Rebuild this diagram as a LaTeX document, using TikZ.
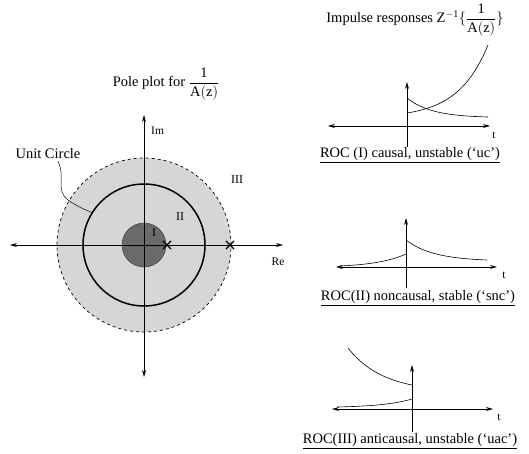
\documentclass[tikz,border=0pt]{standalone}
\usepackage{fontspec}
\setmainfont{Liberation Serif}
\usetikzlibrary{positioning,calc,arrows.meta,shapes.misc}
\definecolor{rocLight}{HTML}{D6D6D6}
\definecolor{rocDark}{HTML}{6A6A6A}
\tikzset{
  axisline/.style={line width=0.8pt, {Stealth[length=7pt,width=4pt]}-{Stealth[length=7pt,width=4pt]}},
  upaxis/.style={line width=0.8pt, -{Stealth[length=7pt,width=4pt]}},
  resp/.style={line width=0.6pt},
  lbl/.style={font=\fontsize{14.5}{16}\selectfont, inner sep=1pt},
  small lbl/.style={font=\fontsize{11.5}{13}\selectfont, inner sep=1pt},
  roman lbl/.style={font=\fontsize{12}{13}\selectfont, inner sep=1pt},
  pole/.style={cross out, draw, minimum size=7pt, inner sep=0pt, line width=1.1pt}
}
\newcommand{\onefrac}{{\displaystyle\frac{\mathrm{1}}{\mathrm{A(z)}}}}
\begin{document}
\begin{tikzpicture}[x=1pt, y=-1pt]
\useasboundingbox (0,0) rectangle (529,454);

% --- POLE PLOT ---
\def\cx{144}
\def\cy{245}
\coordinate (orig) at (\cx,\cy);
\fill[rocLight] (orig) circle[radius=87pt];
\draw[dashed, line width=0.7pt] (orig) circle[radius=87pt];
\filldraw[fill=rocDark, draw=black!75, line width=0.5pt] (orig) circle[radius=22pt];
\draw[line width=1.5pt] (orig) circle[radius=61pt];

% axes
\coordinate (reW) at (10,\cy);
\coordinate (reE) at (283,\cy);
\coordinate (imN) at (\cx,115);
\coordinate (imS) at (\cx,377);
\draw[axisline] (reW) -- (reE);
\draw[axisline] (imS) -- (imN);
\node[small lbl, anchor=west] (im) at (150,131) {Im};
\node[small lbl] (re) at (278,262) {Re};

% poles
\node[pole] (poleI) at (167,\cy) {};
\node[pole] (poleIII) at (230,\cy) {};

% regions
\node[roman lbl] (rI) at (154,233) {I};
\node[roman lbl] (rII) at (180,217) {II};
\node[roman lbl] (rIII) at (237,180) {III};

% unit circle leader
\node[lbl] (ucirc) at (48,154) {Unit Circle};
\coordinate (ucpt) at ($(orig)+(148:61pt)$);
\draw[line width=0.5pt] ($(ucirc.south)+(10,1)$)
  .. controls (66,178) and (55,190) .. (68,200)
  .. controls (78,207) and (86,210) .. (ucpt);

% title
\node[lbl] (poletitle) at (166,84) {Pole plot for $\onefrac$};

% --- IMPULSE RESPONSES ---
\node[lbl] (imptitle) at (415,20) {Impulse responses Z$^{\mathrm{-1}}\{\onefrac\}$};

% ROC I: causal, unstable
\coordinate (aW) at (328,126);
\coordinate (aE) at (490,126);
\coordinate (aN) at (407,82);
\coordinate (aS) at (407,147);
\draw[axisline] (aW) -- (aE);
\draw[upaxis] (aS) -- (aN);
\node[small lbl] (ta) at (494,135) {t};
\draw[resp] plot[domain=0:81, samples=40] ({407+\x},{113-68*(exp(\x/30)-1)/(exp(81/30)-1)});
\draw[resp] plot[domain=0:81, samples=40] ({407+\x},{98+19.8*(1-exp(-\x/25))});
\node[lbl] (roca) at (410,155) {\underline{ROC (I) causal, unstable (`uc')}};

% ROC II: noncausal, stable
\coordinate (bW) at (336,267);
\coordinate (bE) at (497,267);
\coordinate (bN) at (406,218);
\coordinate (bS) at (406,288);
\draw[axisline] (bW) -- (bE);
\draw[upaxis] (bS) -- (bN);
\node[small lbl] (tb) at (504,275) {t};
\draw[resp] plot[domain=0:81, samples=40] ({406+\x},{240+20*(1-exp(-\x/28))/(1-exp(-81/28))});
\draw[resp] plot[domain=0:66, samples=40] ({406-\x},{254+12*(1-exp(-\x/30))/(1-exp(-66/30))});
\node[lbl] (rocb) at (418,298) {\underline{ROC(II) noncausal, stable (`snc')}};

% ROC III: anticausal, unstable
\coordinate (cW) at (332,409);
\coordinate (cE) at (493,409);
\coordinate (cN) at (412,365);
\coordinate (cS) at (412,432);
\draw[axisline] (cW) -- (cE);
\draw[upaxis] (cS) -- (cN);
\node[small lbl] (tc) at (499,417) {t};
\draw[resp] plot[domain=0:64, samples=40] ({412-\x},{385-37*(exp(\x/35)-1)/(exp(64/35)-1)});
\draw[resp] plot[domain=0:75, samples=40] ({412-\x},{399+8*(1-exp(-\x/30))/(1-exp(-75/30))});
\node[lbl] (rocc) at (410,441) {\underline{ROC(III) anticausal, unstable (`uac')}};

\end{tikzpicture}
\end{document}
